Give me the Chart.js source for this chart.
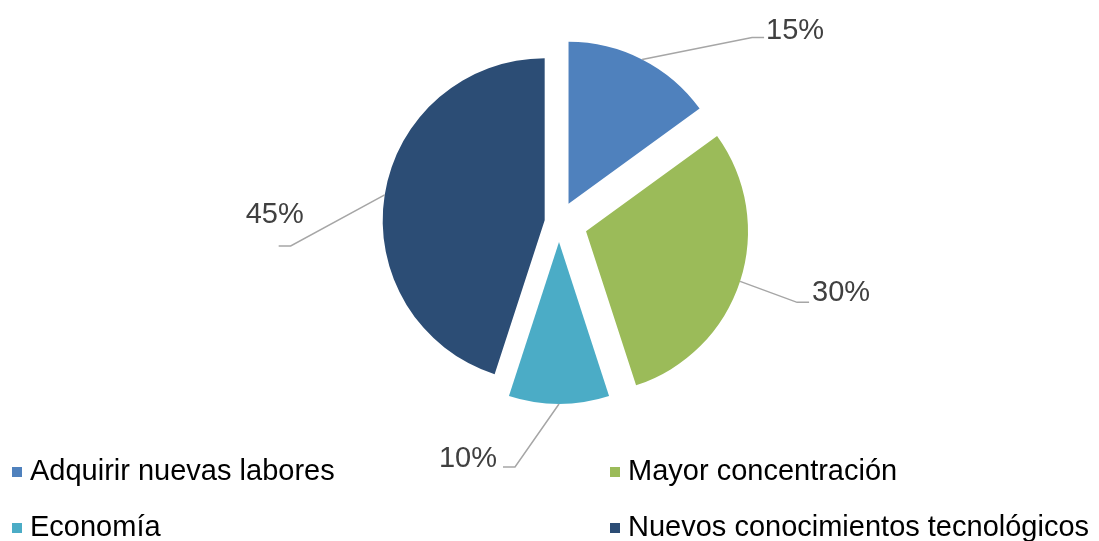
<!DOCTYPE html>
<html>
<head>
<meta charset="utf-8">
<script src="https://cdn.jsdelivr.net/npm/chart.js@4/dist/chart.umd.min.js"></script>
<style>
  html, body { margin: 0; padding: 0; background: #fff; }
  #wrap { position: relative; width: 1099px; height: 541px; }
</style>
</head>
<body>
<div id="wrap"><canvas id="ch"></canvas></div>
<script>
const categories = ['Adquirir nuevas labores', 'Mayor concentración', 'Economía', 'Nuevos conocimientos tecnológicos'];
const values = [15, 30, 10, 45];
const colors = ['#4F81BD', '#9BBB59', '#4BACC6', '#2C4D75'];

// how far each slice is pulled out, px
const explodePx = [21, 28.4, 19.5, 14.5];
// label layout relative to the point on the arc edge: elbow, tail direction, text spot
const labelLayout = [
    { elbow: [110, -22], tail: 12, text: [124, -20], align: 'left' },
    { elbow: [57, 21], tail: 12, text: [72, 20], align: 'left' },
    { elbow: [-44, 63], tail: -12, text: [-62, 63], align: 'right' },
    { elbow: [-94, 51], tail: -12, text: [-81, 28], align: 'right' }
];
const legendCols = [12, 610];
const legendRows = [480, 536];

const FONT = '"Liberation Sans", Arial, sans-serif';

const explode = {
    id: 'explode',
    beforeDatasetsDraw(chart) {
        chart.getDatasetMeta(0).data.forEach((arc, i) => {
            if (arc._exploded) return;
            const draw = arc.draw;
            arc._exploded = true;
            arc.draw = function (ctx, area) {
                const mid = (this.startAngle + this.endAngle) / 2;
                ctx.save();
                ctx.translate(Math.cos(mid) * explodePx[i], Math.sin(mid) * explodePx[i]);
                draw.call(this, ctx, area);
                ctx.restore();
            };
        });
    }
};

const labels = {
    id: 'pieLabels',
    afterDatasetsDraw(chart) {
        const ctx = chart.ctx;
        const ds = chart.data.datasets[0];
        chart.getDatasetMeta(0).data.forEach((arc, i) => {
            const mid = (arc.startAngle + arc.endAngle) / 2;
            const r = arc.outerRadius + explodePx[i];
            const ax = arc.x + Math.cos(mid) * r;
            const ay = arc.y + Math.sin(mid) * r;
            const l = labelLayout[i];
            const ex = ax + l.elbow[0], ey = ay + l.elbow[1];
            ctx.save();
            ctx.strokeStyle = '#A6A6A6';
            ctx.lineWidth = 1.5;
            ctx.beginPath();
            ctx.moveTo(ax, ay);
            ctx.lineTo(ex, ey);
            ctx.lineTo(ex + l.tail, ey);
            ctx.stroke();
            ctx.fillStyle = '#404040';
            ctx.font = '29px ' + FONT;
            ctx.textAlign = l.align;
            ctx.textBaseline = 'alphabetic';
            ctx.fillText(ds.data[i] + '%', ax + l.text[0], ay + l.text[1]);
            ctx.restore();
        });

        // legend, two columns
        ctx.save();
        ctx.font = '29px ' + FONT;
        ctx.textAlign = 'left';
        ctx.textBaseline = 'alphabetic';
        chart.data.labels.forEach((name, i) => {
            const x = legendCols[i % 2];
            const y = legendRows[Math.floor(i / 2)];
            ctx.fillStyle = ds.backgroundColor[i];
            ctx.fillRect(x, y - 13, 10, 10);
            ctx.fillStyle = '#000';
            ctx.fillText(name, x + 18, y);
        });
        ctx.restore();
    }
};

new Chart('ch', {
    type: 'pie',
    data: {
        labels: categories,
        datasets: [{
            data: values,
            backgroundColor: colors,
            borderWidth: 0,
            radius: 162
        }]
    },
    options: {
        responsive: true,
        maintainAspectRatio: false,
        animation: false,
        layout: { padding: { left: 19, right: 0, top: 0, bottom: 96 } },
        plugins: {
            legend: { display: false },
            tooltip: { enabled: false }
        }
    },
    plugins: [explode, labels]
});
</script>
</body>
</html>
